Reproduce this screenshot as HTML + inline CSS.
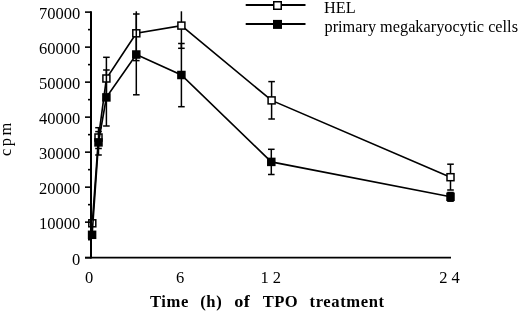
<!DOCTYPE html>
<html><head><meta charset="utf-8"><style>
html,body{margin:0;padding:0;background:#fff;}
svg{display:block;will-change:transform;}
.t{font-family:"Liberation Serif",serif;font-size:16.5px;fill:#000;}
.tb{font-family:"Liberation Serif",serif;font-size:16.6px;font-weight:bold;fill:#000;}
</style></head><body>
<svg width="520" height="311" viewBox="0 0 520 311">
<polyline points="92.30,223.30 98.50,137.50 106.40,78.50 136.30,33.30 181.40,25.60 271.60,100.40 450.50,177.20" fill="none" stroke="#000" stroke-width="1.65"/>
<line x1="92.30" y1="221.00" x2="92.30" y2="225.60" stroke="#000" stroke-width="1.5"/>
<line x1="89.00" y1="221.00" x2="95.60" y2="221.00" stroke="#000" stroke-width="1.5"/>
<line x1="89.00" y1="225.60" x2="95.60" y2="225.60" stroke="#000" stroke-width="1.5"/>
<line x1="98.50" y1="127.70" x2="98.50" y2="148.50" stroke="#000" stroke-width="1.5"/>
<line x1="95.20" y1="127.70" x2="101.80" y2="127.70" stroke="#000" stroke-width="1.5"/>
<line x1="95.20" y1="148.50" x2="101.80" y2="148.50" stroke="#000" stroke-width="1.5"/>
<line x1="106.40" y1="57.30" x2="106.40" y2="99.70" stroke="#000" stroke-width="1.5"/>
<line x1="103.10" y1="57.30" x2="109.70" y2="57.30" stroke="#000" stroke-width="1.5"/>
<line x1="103.10" y1="99.70" x2="109.70" y2="99.70" stroke="#000" stroke-width="1.5"/>
<line x1="136.30" y1="11.30" x2="136.30" y2="60.60" stroke="#000" stroke-width="1.5"/>
<line x1="133.00" y1="60.60" x2="139.60" y2="60.60" stroke="#000" stroke-width="1.5"/>
<line x1="181.40" y1="11.30" x2="181.40" y2="48.30" stroke="#000" stroke-width="1.5"/>
<line x1="178.10" y1="48.30" x2="184.70" y2="48.30" stroke="#000" stroke-width="1.5"/>
<line x1="271.60" y1="81.60" x2="271.60" y2="119.00" stroke="#000" stroke-width="1.5"/>
<line x1="268.30" y1="81.60" x2="274.90" y2="81.60" stroke="#000" stroke-width="1.5"/>
<line x1="268.30" y1="119.00" x2="274.90" y2="119.00" stroke="#000" stroke-width="1.5"/>
<line x1="450.50" y1="164.20" x2="450.50" y2="190.00" stroke="#000" stroke-width="1.5"/>
<line x1="447.20" y1="164.20" x2="453.80" y2="164.20" stroke="#000" stroke-width="1.5"/>
<line x1="447.20" y1="190.00" x2="453.80" y2="190.00" stroke="#000" stroke-width="1.5"/>
<rect x="88.80" y="219.80" width="7.0" height="7.0" fill="#fff" stroke="#000" stroke-width="1.5"/>
<rect x="95.00" y="134.00" width="7.0" height="7.0" fill="#fff" stroke="#000" stroke-width="1.5"/>
<rect x="102.90" y="75.00" width="7.0" height="7.0" fill="#fff" stroke="#000" stroke-width="1.5"/>
<rect x="132.80" y="29.80" width="7.0" height="7.0" fill="#fff" stroke="#000" stroke-width="1.5"/>
<rect x="177.90" y="22.10" width="7.0" height="7.0" fill="#fff" stroke="#000" stroke-width="1.5"/>
<rect x="268.10" y="96.90" width="7.0" height="7.0" fill="#fff" stroke="#000" stroke-width="1.5"/>
<rect x="447.00" y="173.70" width="7.0" height="7.0" fill="#fff" stroke="#000" stroke-width="1.5"/>
<polyline points="92.10,234.80 98.50,142.40 106.40,97.40 136.30,54.50 181.40,75.00 271.30,161.90 450.50,196.80" fill="none" stroke="#000" stroke-width="1.65"/>
<line x1="92.10" y1="232.00" x2="92.10" y2="237.50" stroke="#000" stroke-width="1.5"/>
<line x1="88.80" y1="232.00" x2="95.40" y2="232.00" stroke="#000" stroke-width="1.5"/>
<line x1="88.80" y1="237.50" x2="95.40" y2="237.50" stroke="#000" stroke-width="1.5"/>
<line x1="98.50" y1="131.60" x2="98.50" y2="155.00" stroke="#000" stroke-width="1.5"/>
<line x1="95.20" y1="131.60" x2="101.80" y2="131.60" stroke="#000" stroke-width="1.5"/>
<line x1="95.20" y1="155.00" x2="101.80" y2="155.00" stroke="#000" stroke-width="1.5"/>
<line x1="106.40" y1="70.00" x2="106.40" y2="126.00" stroke="#000" stroke-width="1.5"/>
<line x1="103.10" y1="70.00" x2="109.70" y2="70.00" stroke="#000" stroke-width="1.5"/>
<line x1="103.10" y1="126.00" x2="109.70" y2="126.00" stroke="#000" stroke-width="1.5"/>
<line x1="136.30" y1="14.00" x2="136.30" y2="94.80" stroke="#000" stroke-width="1.5"/>
<line x1="133.00" y1="14.00" x2="139.60" y2="14.00" stroke="#000" stroke-width="1.5"/>
<line x1="133.00" y1="94.80" x2="139.60" y2="94.80" stroke="#000" stroke-width="1.5"/>
<line x1="181.40" y1="43.50" x2="181.40" y2="106.70" stroke="#000" stroke-width="1.5"/>
<line x1="178.10" y1="43.50" x2="184.70" y2="43.50" stroke="#000" stroke-width="1.5"/>
<line x1="178.10" y1="106.70" x2="184.70" y2="106.70" stroke="#000" stroke-width="1.5"/>
<line x1="271.30" y1="149.30" x2="271.30" y2="174.50" stroke="#000" stroke-width="1.5"/>
<line x1="268.00" y1="149.30" x2="274.60" y2="149.30" stroke="#000" stroke-width="1.5"/>
<line x1="268.00" y1="174.50" x2="274.60" y2="174.50" stroke="#000" stroke-width="1.5"/>
<line x1="450.50" y1="192.50" x2="450.50" y2="201.20" stroke="#000" stroke-width="1.5"/>
<line x1="447.20" y1="192.50" x2="453.80" y2="192.50" stroke="#000" stroke-width="1.5"/>
<line x1="447.20" y1="201.20" x2="453.80" y2="201.20" stroke="#000" stroke-width="1.5"/>
<rect x="88.60" y="231.30" width="7.0" height="7.0" fill="#000" stroke="#000" stroke-width="1.5"/>
<rect x="95.00" y="138.90" width="7.0" height="7.0" fill="#000" stroke="#000" stroke-width="1.5"/>
<rect x="102.90" y="93.90" width="7.0" height="7.0" fill="#000" stroke="#000" stroke-width="1.5"/>
<rect x="132.80" y="51.00" width="7.0" height="7.0" fill="#000" stroke="#000" stroke-width="1.5"/>
<rect x="177.90" y="71.50" width="7.0" height="7.0" fill="#000" stroke="#000" stroke-width="1.5"/>
<rect x="267.80" y="158.40" width="7.0" height="7.0" fill="#000" stroke="#000" stroke-width="1.5"/>
<rect x="447.00" y="193.30" width="7.0" height="7.0" fill="#000" stroke="#000" stroke-width="1.5"/>
<line x1="91" y1="11.22" x2="91" y2="258.55" stroke="#000" stroke-width="2"/>
<line x1="85" y1="257.70" x2="451" y2="257.70" stroke="#000" stroke-width="1.7"/>
<line x1="85" y1="257.70" x2="91" y2="257.70" stroke="#000" stroke-width="1.6"/>
<line x1="88" y1="239.67" x2="91" y2="239.67" stroke="#000" stroke-width="1.6"/>
<line x1="85" y1="222.16" x2="91" y2="222.16" stroke="#000" stroke-width="1.6"/>
<line x1="88" y1="204.66" x2="91" y2="204.66" stroke="#000" stroke-width="1.6"/>
<line x1="85" y1="187.16" x2="91" y2="187.16" stroke="#000" stroke-width="1.6"/>
<line x1="88" y1="169.65" x2="91" y2="169.65" stroke="#000" stroke-width="1.6"/>
<line x1="85" y1="152.15" x2="91" y2="152.15" stroke="#000" stroke-width="1.6"/>
<line x1="88" y1="134.65" x2="91" y2="134.65" stroke="#000" stroke-width="1.6"/>
<line x1="85" y1="117.14" x2="91" y2="117.14" stroke="#000" stroke-width="1.6"/>
<line x1="88" y1="99.64" x2="91" y2="99.64" stroke="#000" stroke-width="1.6"/>
<line x1="85" y1="82.14" x2="91" y2="82.14" stroke="#000" stroke-width="1.6"/>
<line x1="88" y1="64.63" x2="91" y2="64.63" stroke="#000" stroke-width="1.6"/>
<line x1="85" y1="47.13" x2="91" y2="47.13" stroke="#000" stroke-width="1.6"/>
<line x1="88" y1="29.62" x2="91" y2="29.62" stroke="#000" stroke-width="1.6"/>
<line x1="85" y1="12.12" x2="91" y2="12.12" stroke="#000" stroke-width="1.6"/>
<text x="80.3" y="264.70" text-anchor="end" class="t">0</text>
<text x="80.3" y="229.16" text-anchor="end" class="t">10000</text>
<text x="80.3" y="194.16" text-anchor="end" class="t">20000</text>
<text x="80.3" y="159.15" text-anchor="end" class="t">30000</text>
<text x="80.3" y="124.14" text-anchor="end" class="t">40000</text>
<text x="80.3" y="89.14" text-anchor="end" class="t">50000</text>
<text x="80.3" y="54.13" text-anchor="end" class="t">60000</text>
<text x="80.3" y="19.12" text-anchor="end" class="t">70000</text>
<text x="85.0" y="282.5" class="t" letter-spacing="0">0</text>
<text x="176.0" y="282.5" class="t" letter-spacing="0">6</text>
<text x="260.5" y="282.5" class="t" letter-spacing="4">12</text>
<text x="439.3" y="282.5" class="t" letter-spacing="4">24</text>
<text x="149.9" y="307.2" class="tb" letter-spacing="0.6">Time</text>
<text x="200.2" y="307.2" class="tb" letter-spacing="0.6">(h)</text>
<text x="262.8" y="307.2" class="tb" letter-spacing="0.4">TPO</text>
<text x="309.5" y="307.2" class="tb" letter-spacing="0.6">treatment</text>
<text transform="translate(234.2,307.2) scale(1.1,1)" class="tb" letter-spacing="0.5">of</text>
<text transform="translate(10.5,156.1) rotate(-90)" class="t" letter-spacing="2.5">cpm</text>
<line x1="245.7" y1="5" x2="305.5" y2="5" stroke="#000" stroke-width="1.9"/>
<line x1="245.7" y1="24" x2="305.5" y2="24" stroke="#000" stroke-width="1.9"/>
<rect x="273.75" y="1.75" width="7.5" height="7.5" fill="#fff" stroke="#000" stroke-width="1.5"/>
<rect x="273.75" y="20.65" width="7.5" height="7.5" fill="#000" stroke="#000" stroke-width="1.5"/>
<text x="324.1" y="12.8" class="t" style="font-size:16.3px">HEL</text>
<text x="324.5" y="31.8" class="t" style="font-size:16.3px">primary megakaryocytic cells</text>
</svg>
</body></html>
